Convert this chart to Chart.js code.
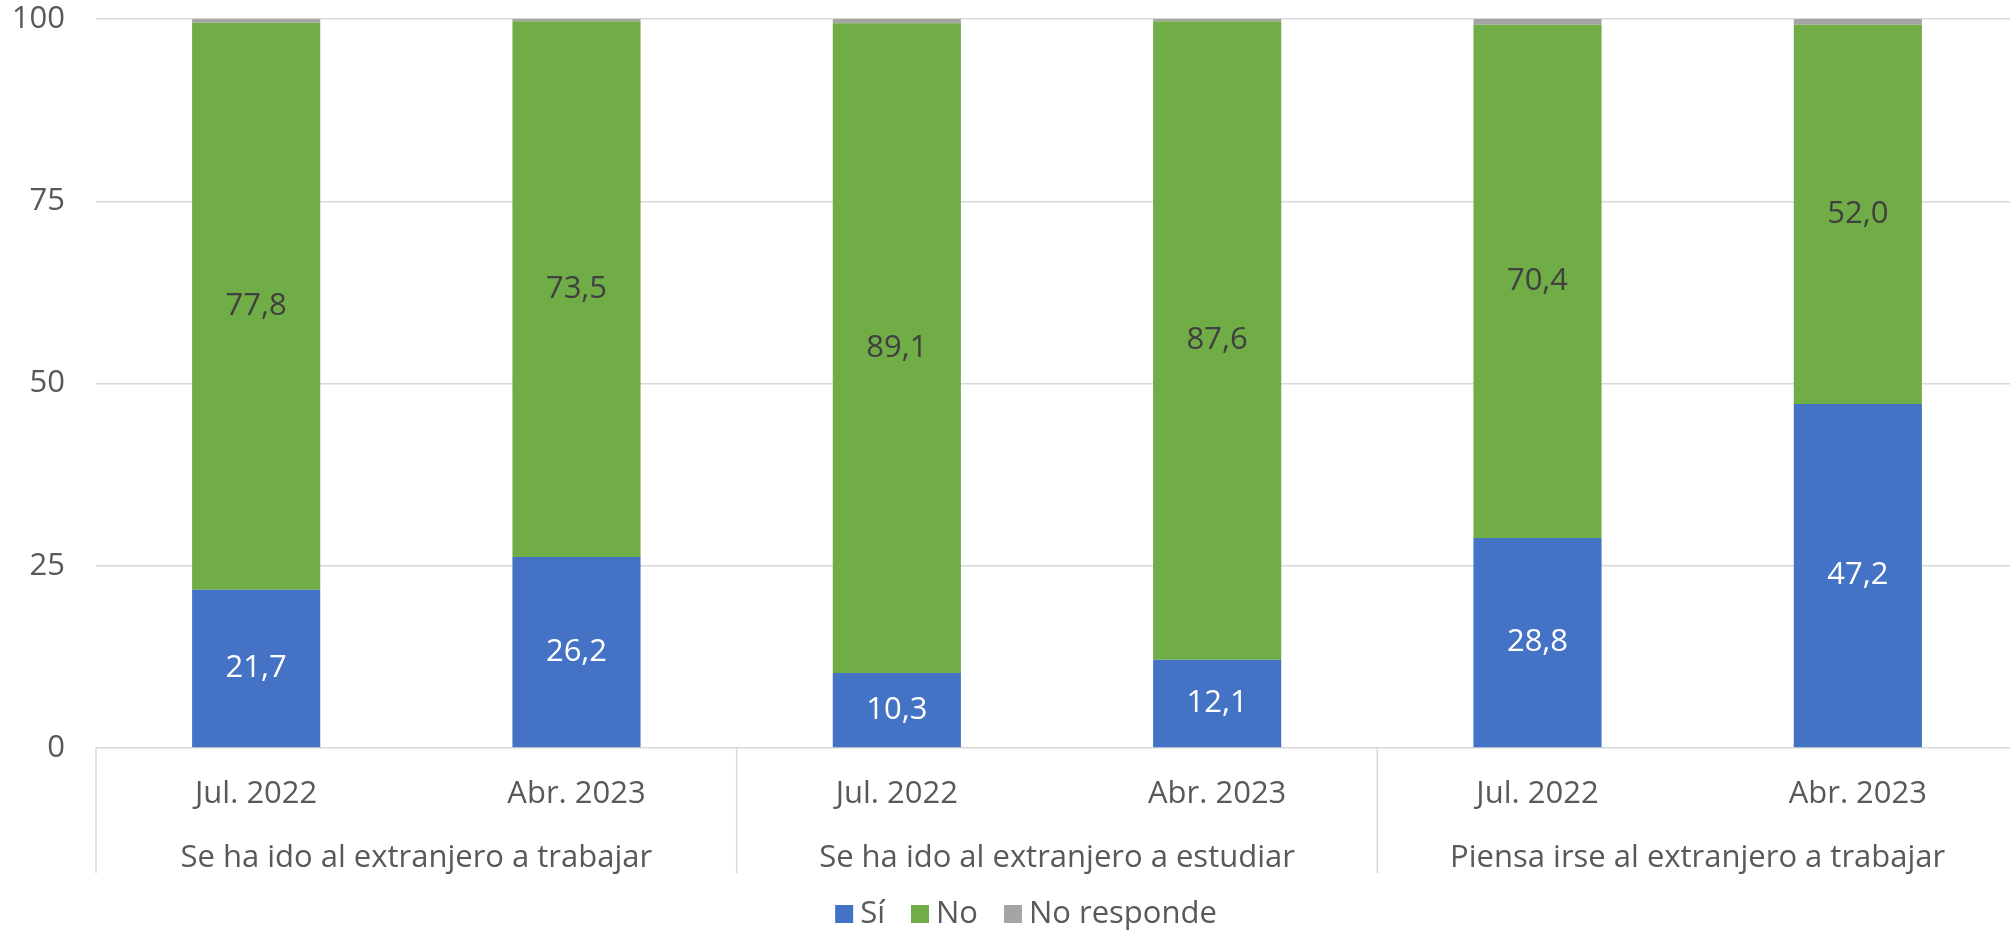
<!DOCTYPE html>
<html><head><meta charset="utf-8">
<style>html,body{margin:0;padding:0;background:#fff;overflow:hidden}#wrap{width:2010px;height:930px}</style>
<script src="https://cdn.jsdelivr.net/npm/chart.js@4.4.0/dist/chart.umd.min.js"></script>
</head><body><div id="wrap"><canvas id="c" width="2010" height="930"></canvas></div>
<script>
const categories = ['Jul. 2022','Abr. 2023','Jul. 2022','Abr. 2023','Jul. 2022','Abr. 2023'];
const groups = ['Se ha ido al extranjero a trabajar','Se ha ido al extranjero a estudiar','Piensa irse al extranjero a trabajar'];
const si = [21.7, 26.2, 10.3, 12.1, 28.8, 47.2];
const no = [77.8, 73.5, 89.1, 87.6, 70.4, 52.0];
const noResponde = [0.5, 0.3, 0.6, 0.3, 0.8, 0.8];
const yTicks = [0, 25, 50, 75, 100];
const seriesNames = ['Sí', 'No', 'No responde'];
const seriesColors = ['#4472C4', '#70AD47', '#A5A5A5'];

const FONT = "'Open Sans'";
const FS = 31;
const TEXT = '#595959';
const GRID = '#D9D9D9';
Chart.defaults.font.family = FONT;
Chart.defaults.font.size = FS;
Chart.defaults.color = TEXT;

const fmt = v => v.toFixed(1).replace('.', ',');

// the plot area of the original runs slightly past the right edge of the canvas
const extendRight = {
  id: 'extendRight',
  afterLayout(chart) {
    const extra = 8;
    const s = chart.scales.x;
    s.right += extra;
    s.width += extra;
    s.configure();
    chart.chartArea.right += extra;
    chart.chartArea.width += extra;
  }
};

const valueLabels = {
  id: 'valueLabels',
  afterDatasetsDraw(chart) {
    const ctx = chart.ctx;
    ctx.save();
    ctx.font = FS + "px " + FONT;
    ctx.textAlign = 'center';
    ctx.textBaseline = 'middle';
    [0, 1].forEach(di => {
      const meta = chart.getDatasetMeta(di);
      const ds = chart.data.datasets[di];
      ctx.fillStyle = di === 0 ? '#FFFFFF' : '#404040';
      meta.data.forEach((el, i) => {
        ctx.fillText(fmt(ds.data[i]), el.x, (el.y + el.base) / 2);
      });
    });
    ctx.restore();
  }
};

const groupAxis = {
  id: 'groupAxis',
  afterDraw(chart) {
    const x = chart.scales.x;
    const ctx = chart.ctx;
    const half = (x.getPixelForValue(1) - x.getPixelForValue(0)) / 2;
    const top = chart.chartArea.bottom;
    ctx.save();
    ctx.strokeStyle = GRID;
    ctx.lineWidth = 1.5;
    groups.forEach((g, gi) => {
      const left = x.getPixelForValue(gi * 2) - half;
      ctx.beginPath();
      ctx.moveTo(left, top);
      ctx.lineTo(left, top + 125);
      ctx.stroke();
    });
    ctx.font = FS + "px " + FONT;
    ctx.fillStyle = TEXT;
    ctx.textAlign = 'center';
    ctx.textBaseline = 'middle';
    groups.forEach((g, gi) => {
      const cx = (x.getPixelForValue(gi * 2) + x.getPixelForValue(gi * 2 + 1)) / 2;
      ctx.fillText(g, cx, top + 110);
    });

    // legend
    const box = 18, gap = 7, spacing = 26;
    const widths = seriesNames.map(n => ctx.measureText(n).width);
    const total = widths.reduce((a, w) => a + box + gap + w, 0) + spacing * (seriesNames.length - 1);
    let lx = 1026 - total / 2;
    const ly = 914;
    ctx.textAlign = 'left';
    seriesNames.forEach((n, i) => {
      ctx.fillStyle = seriesColors[i];
      ctx.fillRect(lx, ly - box / 2, box, box);
      ctx.fillStyle = TEXT;
      ctx.fillText(n, lx + box + gap, ly);
      lx += box + gap + widths[i] + spacing;
    });
    ctx.restore();
  }
};

new Chart(document.getElementById('c'), {
  type: 'bar',
  data: {
    labels: categories,
    datasets: seriesNames.map((n, i) => ({
      label: n,
      data: [si, no, noResponde][i],
      backgroundColor: seriesColors[i]
    }))
  },
  options: {
    responsive: false,
    animation: false,
    events: [],
    layout: { padding: { left: 0, right: 0, top: 19, bottom: 52 } },
    datasets: { bar: { categoryPercentage: 1, barPercentage: 0.4, borderWidth: 0 } },
    scales: {
      x: {
        stacked: true,
        grid: { display: false },
        border: { display: false },
        ticks: { padding: 20, color: TEXT, font: { size: FS } },
        afterFit(s) { s.height = 130; s.paddingLeft = 0; s.paddingRight = 0; }
      },
      y: {
        stacked: true,
        min: 0, max: 100,
        afterBuildTicks(s) { s.ticks = yTicks.map(v => ({ value: v })); },
        grid: { color: GRID, lineWidth: 1.5, drawTicks: false },
        border: { display: false },
        ticks: { padding: 31, color: TEXT, font: { size: FS } },
        afterFit(s) { s.width = 96; s.paddingTop = 0; s.paddingBottom = 0; }
      }
    },
    plugins: {
      legend: { display: false },
      tooltip: { enabled: false }
    }
  },
  plugins: [extendRight, valueLabels, groupAxis]
});
</script></body></html>
